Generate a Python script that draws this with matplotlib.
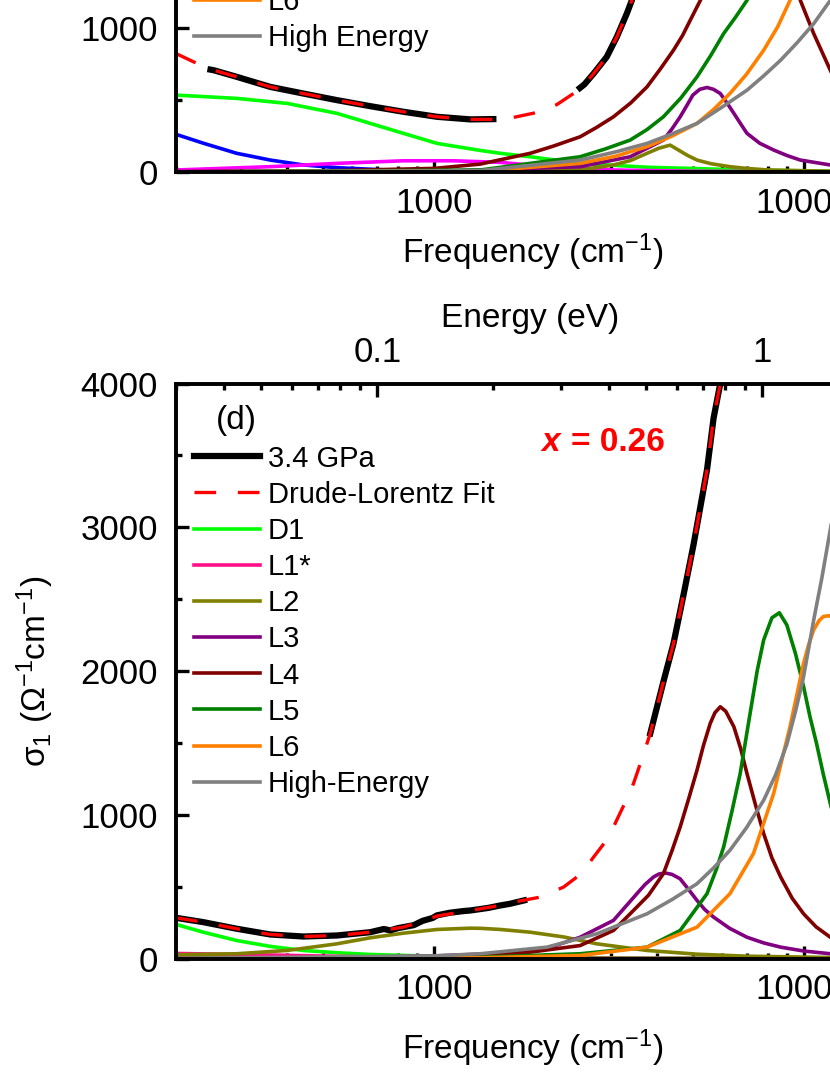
import numpy as np
import matplotlib
matplotlib.use("Agg")
import matplotlib.pyplot as plt
from matplotlib.ticker import LogLocator, MultipleLocator, NullFormatter, FuncFormatter

plt.rcParams['font.family'] = ['Liberation Sans', 'DejaVu Sans']
plt.rcParams['mathtext.fontset'] = 'custom'
plt.rcParams['mathtext.rm'] = 'Liberation Sans'
plt.rcParams['mathtext.it'] = 'Liberation Sans:italic'
plt.rcParams['mathtext.bf'] = 'Liberation Sans:bold'

# ---------------- upper panel (only its lower part is visible) ----------------
freq_c_fit = [200, 228, 253, 292, 360, 442, 545, 671, 825, 1017, 1251, 1509, 1640, 1936, 2150, 2381, 2550, 2700, 2930, 3120, 3320, 3425, 3700]
sig_c_fit = [824, 755, 708, 662, 592, 546, 500, 458, 419, 384, 366, 366, 380, 419, 470, 546, 610, 685, 801, 940, 1102, 1194, 1500]
freq_c_data1 = [248, 253, 292, 360, 442, 545, 671, 825, 1017, 1251, 1445]
sig_c_data1 = [712, 708, 662, 592, 546, 500, 458, 419, 384, 366, 368]
freq_c_data2 = [2480, 2550, 2700, 2930, 3120, 3320, 3425, 3700]
sig_c_data2 = [585, 610, 685, 801, 940, 1102, 1194, 1500]

freq_c_d1 = [200, 292, 400, 545, 745, 1017, 1332, 1509, 1818, 2482, 3765, 7020, 12000]
sig_c_d1 = [535, 512, 477, 408, 303, 199, 150, 130, 106, 60, 33, 14, 5]
freq_c_d2 = [200, 238, 292, 360, 442, 545, 745, 1100, 2000, 5000, 12000]
sig_c_d2 = [262, 199, 130, 83, 49, 30, 14, 6, 3, 1, 0]
freq_c_l1 = [200, 360, 545, 825, 1128, 1509, 2018, 3055, 5000, 12000]
sig_c_l1 = [14, 37, 60, 78, 78, 67, 37, 14, 5, 1]
freq_c_l2 = [200, 1000, 2482, 3055, 3400, 3765, 4050, 4350, 4600, 4850, 5142, 5600, 6314, 7000, 8000, 12000]
sig_c_l2 = [0, 2, 14, 49, 80, 130, 165, 187, 150, 115, 83, 58, 37, 25, 14, 5]
freq_c_l3 = [200, 1000, 2482, 3390, 4170, 4400, 4630, 4820, 5010, 5230, 5473, 5700, 5945, 6200, 6470, 6750, 7020, 7600, 8290, 9000, 9790, 11800, 12000]
sig_c_l3 = [0, 3, 37, 106, 222, 300, 384, 460, 535, 575, 588, 575, 546, 480, 408, 335, 269, 200, 153, 115, 83, 49, 46]
freq_c_l4 = [200, 500, 1000, 1332, 1818, 2100, 2482, 2750, 3055, 3400, 3765, 4100, 4440, 4700, 4930, 5250, 5600, 6000, 7500, 9000, 9790, 10640, 11800, 12000]
sig_c_l4 = [3, 8, 25, 55, 130, 180, 245, 310, 384, 480, 592, 720, 847, 950, 1056, 1194, 1350, 1700, 2300, 1800, 1194, 963, 708, 670]
freq_c_l5 = [200, 1332, 2482, 2900, 3390, 3765, 4170, 4650, 5142, 5600, 6070, 6550, 7020, 7800]
sig_c_l5 = [0, 14, 106, 160, 222, 295, 384, 515, 662, 810, 963, 1080, 1194, 1500]
freq_c_l6 = [200, 1332, 2482, 3100, 3765, 4400, 5142, 5700, 6314, 7000, 7790, 8500, 9180, 10000]
sig_c_l6 = [0, 5, 60, 110, 176, 250, 338, 435, 546, 680, 847, 1010, 1194, 1450]
freq_c_he = [200, 1332, 2482, 3100, 3765, 4400, 5142, 6000, 7020, 7800, 8660, 9600, 10640, 11800, 12500]
sig_c_he = [0, 10, 83, 140, 199, 265, 338, 450, 569, 670, 778, 900, 1032, 1194, 1300]

# ---------------- panel (d): 3.4 GPa, x = 0.26 ----------------
freq_d_data1 = [200, 237, 292, 360, 442, 545, 671, 730, 760, 800, 824, 880, 930, 990, 1017, 1100, 1200, 1251, 1300, 1400, 1509, 1600, 1750]
sig_d_data1 = [283, 253, 207, 167, 153, 160, 183, 205, 196, 212, 218, 232, 262, 282, 300, 318, 330, 334, 340, 352, 369, 380, 404]
freq_d_data2 = [3843, 4170, 4440, 4728, 5033, 5300, 5473, 5702, 5945, 6150]
sig_d_data2 = [1566, 1925, 2190, 2530, 2880, 3200, 3400, 3760, 4000, 4200]
freq_d_fit = [200, 237, 292, 360, 442, 545, 671, 824, 917, 1017, 1251, 1509, 1640, 1936, 2239, 2500, 2700, 2900, 3055, 3250, 3461, 3650,
              3843, 4170, 4440, 4728, 5033, 5300, 5473, 5702, 5945, 6150]
sig_d_fit = [283, 253, 207, 167, 153, 160, 183, 218, 255, 295, 334, 369, 392, 427, 497, 590, 706, 810, 915, 1060, 1217, 1390,
             1566, 1925, 2190, 2530, 2880, 3200, 3400, 3760, 4000, 4200]

freq_d_d1 = [200, 237, 292, 360, 442, 545, 671, 917, 1250, 1800, 2500, 4000, 7000, 12000]
sig_d_d1 = [237, 183, 125, 84, 56, 40, 28, 18, 12, 8, 5, 3, 2, 1]
freq_d_l1 = [200, 300, 400, 500, 700, 1000, 2000, 5000, 12000]
sig_d_l1 = [35, 28, 22, 17, 10, 5, 2, 1, 0]
freq_d_l2 = [200, 292, 400, 545, 671, 824, 1017, 1251, 1332, 1509, 1818, 2239, 2755, 3765, 5142, 7000, 10620, 12000]
sig_d_l2 = [26, 33, 56, 102, 144, 176, 202, 211, 210, 202, 183, 150, 102, 56, 30, 16, 9, 7]
freq_d_l3 = [200, 500, 1000, 1500, 2018, 2482, 3055, 3535, 3720, 3921, 4060, 4217, 4400, 4626, 4880, 5142, 5400, 5702, 6300, 7020, 7800, 8660, 10000, 11800, 12000]
sig_d_l3 = [1, 5, 18, 35, 70, 148, 265, 451, 515, 567, 588, 595, 585, 555, 480, 404, 340, 288, 210, 148, 108, 79, 52, 33, 30]
freq_d_l4 = [200, 500, 1000, 1332, 1818, 2482, 3055, 3390, 3800, 4170, 4400, 4630, 4880, 5142, 5350, 5585, 5750, 5945, 6150, 6470, 6750, 7020,
             7400, 7790, 8200, 8660, 9300, 9990, 10800, 11800, 12000]
sig_d_l4 = [1, 3, 12, 21, 44, 90, 195, 311, 440, 590, 750, 915, 1110, 1310, 1480, 1636, 1710, 1751, 1720, 1612, 1460, 1287,
            1070, 869, 700, 567, 420, 311, 220, 148, 140]
freq_d_l5 = [200, 1332, 2482, 3765, 4630, 5473, 5800, 6070, 6400, 6730, 7100, 7480, 7790, 8200, 8590, 9000, 9500, 9990, 10400, 10830, 11300, 11800, 12000]
sig_d_l5 = [0, 9, 33, 79, 195, 451, 620, 776, 1030, 1287, 1650, 2000, 2216, 2370, 2405, 2320, 2120, 1891, 1680, 1496, 1280, 1078, 1000]
freq_d_l6 = [200, 1332, 2482, 3765, 5142, 6314, 7310, 8290, 9180, 9990, 10300, 10640, 11000, 11300, 11700, 12000]
sig_d_l6 = [0, 5, 21, 79, 218, 451, 730, 1148, 1612, 2054, 2180, 2286, 2350, 2379, 2385, 2370]
freq_d_he = [200, 1000, 1332, 2018, 2755, 3765, 4400, 5142, 5700, 6314, 7000, 7790, 8400, 9000, 9500, 9990, 10640, 11200, 11800, 12000]
sig_d_he = [1, 18, 33, 79, 172, 311, 410, 520, 630, 753, 910, 1101, 1280, 1490, 1720, 1960, 2355, 2650, 2983, 3100]

# colours
c_d1 = '#00FF00'
c_d2 = '#0000FF'
c_l1 = '#FF00FF'
c_l1s = '#FF1088'
c_l2 = '#808000'
c_l3 = '#800080'
c_l4 = '#800000'
c_l5 = '#008000'
c_l6 = '#FF8000'
c_he = '#808080'

LW = 2.6
FS = 24
TFS = 25
LFS = 21

W, H = 830, 1075
fig = plt.figure(figsize=(W / 100, H / 100), dpi=100)
# axes run past the right edge of the picture, like the cropped original
ax_c = fig.add_axes([176 / W, (H - 172) / H, 886 / W, 575 / H])
ax_d = fig.add_axes([176 / W, (H - 958.5) / H, 886 / W, 575 / H])

leg_kw = dict(loc='upper left', frameon=False, fontsize=LFS, handlelength=2.25, handletextpad=0.27,
              labelspacing=0.28, borderpad=0, borderaxespad=0)


def style(ax):
    ax.set_xscale('log')
    ax.set_xlim(200, 50000)
    ax.set_ylim(0, 4000)
    ax.yaxis.set_major_locator(MultipleLocator(1000))
    ax.yaxis.set_minor_locator(MultipleLocator(500))
    ax.xaxis.set_major_locator(LogLocator(base=10, numticks=10))
    ax.xaxis.set_minor_locator(LogLocator(base=10, subs=np.arange(2, 10), numticks=30))
    ax.xaxis.set_minor_formatter(NullFormatter())
    ax.xaxis.set_major_formatter(FuncFormatter(lambda v, p: f'{v:.0f}'))
    ax.tick_params(which='both', direction='in', top=False, right=False, width=2.4, labelsize=TFS)
    ax.tick_params(which='major', length=9.5)
    ax.tick_params(which='minor', length=4.5)
    ax.tick_params(axis='x', which='major', pad=10.5)
    ax.tick_params(axis='y', which='major', pad=13)
    for s in ax.spines.values():
        s.set_linewidth(2.8)
    ax.set_xlabel('Frequency (cm$^{-1}$)', fontsize=FS)


def seg(f1, s1, f2, s2):
    return np.concatenate([f1, [np.nan], f2]), np.concatenate([s1, [np.nan], s2])


# ----- upper panel -----
style(ax_c)
ax_c.plot(freq_c_d1, sig_c_d1, color=c_d1, lw=LW)
ax_c.plot(freq_c_d2, sig_c_d2, color=c_d2, lw=LW)
ax_c.plot(freq_c_l1, sig_c_l1, color=c_l1, lw=LW)
ax_c.plot(freq_c_l2, sig_c_l2, color=c_l2, lw=LW)
ax_c.plot(freq_c_l3, sig_c_l3, color=c_l3, lw=LW)
ax_c.plot(freq_c_l4, sig_c_l4, color=c_l4, lw=LW)
ax_c.plot(freq_c_l5, sig_c_l5, color=c_l5, lw=LW)
h_c_l6, = ax_c.plot(freq_c_l6, sig_c_l6, color=c_l6, lw=LW, label='L6')
h_c_he, = ax_c.plot(freq_c_he, sig_c_he, color=c_he, lw=LW, label='High Energy')
fx, fy = seg(freq_c_data1, sig_c_data1, freq_c_data2, sig_c_data2)
ax_c.plot(fx, fy, color='black', lw=4.5)
ax_c.plot(freq_c_fit, sig_c_fit, color='red', lw=2.4, ls=(0, (6.5, 6.5)))
ax_c.legend(handles=[h_c_l6, h_c_he], bbox_to_anchor=(18 / 886, 1 - 391 / 575), **leg_kw)
ax_c.xaxis.set_label_coords(0.403, -0.104)

# ----- panel (d) -----
style(ax_d)
h_d1, = ax_d.plot(freq_d_d1, sig_d_d1, color=c_d1, lw=LW, label='D1')
h_l1, = ax_d.plot(freq_d_l1, sig_d_l1, color=c_l1s, lw=LW, label='L1*')
h_l2, = ax_d.plot(freq_d_l2, sig_d_l2, color=c_l2, lw=LW, label='L2')
h_l3, = ax_d.plot(freq_d_l3, sig_d_l3, color=c_l3, lw=LW, label='L3')
h_l4, = ax_d.plot(freq_d_l4, sig_d_l4, color=c_l4, lw=LW, label='L4')
h_l5, = ax_d.plot(freq_d_l5, sig_d_l5, color=c_l5, lw=LW, label='L5')
h_l6, = ax_d.plot(freq_d_l6, sig_d_l6, color=c_l6, lw=LW, label='L6')
h_he, = ax_d.plot(freq_d_he, sig_d_he, color=c_he, lw=LW, label='High-Energy')
fx, fy = seg(freq_d_data1, sig_d_data1, freq_d_data2, sig_d_data2)
h_data, = ax_d.plot(fx, fy, color='black', lw=4.5, label='3.4 GPa')
h_fit, = ax_d.plot(freq_d_fit, sig_d_fit, color='red', lw=2.4, ls=(0, (6.5, 6.5)), label='Drude-Lorentz Fit')

ax_d.legend(handles=[h_data, h_fit, h_d1, h_l1, h_l2, h_l3, h_l4, h_l5, h_l6, h_he],
            bbox_to_anchor=(18 / 886, 1 - 61 / 575), **leg_kw)

ax_d.set_ylabel('σ$_1$ (Ω$^{-1}$cm$^{-1}$)', fontsize=FS)
ax_d.yaxis.set_label_coords(-0.135, 0.5)
ax_d.xaxis.set_label_coords(0.403, -0.12)

ax_d.text(0.0677, 0.936, '(d)', transform=ax_d.transAxes, ha='center', va='center', fontsize=FS)
ax_d.text(0.413, 0.898, 'x', transform=ax_d.transAxes, ha='left', va='center', fontsize=FS,
          color='red', fontweight='bold', fontstyle='italic')
ax_d.text(0.4458, 0.898, '= 0.26', transform=ax_d.transAxes, ha='left', va='center', fontsize=FS,
          color='red', fontweight='bold')

# energy axis on top of panel (d)
ax_e = ax_d.twiny()
ax_e.set_xscale('log')
ax_e.set_xlim(0.03, 6)
ax_e.xaxis.set_major_locator(LogLocator(base=10, numticks=10))
ax_e.xaxis.set_minor_locator(LogLocator(base=10, subs=np.arange(2, 10), numticks=30))
ax_e.xaxis.set_minor_formatter(NullFormatter())
ax_e.xaxis.set_major_formatter(FuncFormatter(lambda v, p: f'{v:g}'))
ax_e.tick_params(which='both', direction='in', width=2.4, labelsize=TFS)
ax_e.tick_params(which='major', length=9.5, pad=10.5)
ax_e.tick_params(which='minor', length=4.5)
ax_e.set_xlabel('Energy (eV)', fontsize=FS)
ax_e.xaxis.set_label_coords(0.40, 1.099)

fig.savefig('out.png', dpi=100)
